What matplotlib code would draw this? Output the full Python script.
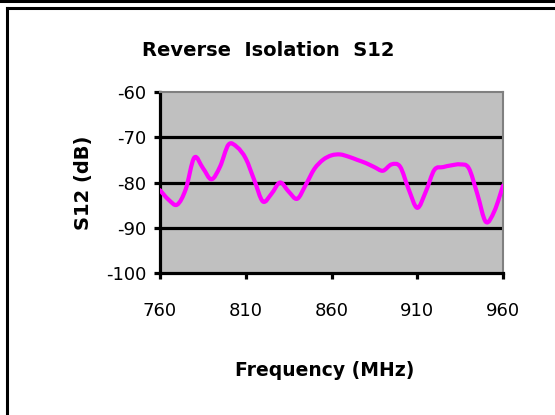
import numpy as np
import matplotlib
matplotlib.use("Agg")
import matplotlib.pyplot as plt
from matplotlib.path import Path
from matplotlib.patches import PathPatch
from matplotlib.lines import Line2D

freq_mhz = [760, 765, 770, 775, 780, 785, 790, 795, 800, 805,
            810, 815, 820, 825, 830, 835, 840, 845, 850, 855,
            860, 865, 870, 875, 880, 885, 890, 895, 900, 905,
            910, 915, 920, 925, 930, 935, 940, 945, 950, 955, 960]
s12_db = [-81.7, -83.8, -84.9, -81.5, -74.5, -76.8, -79.3, -76.5, -71.6, -72.2,
          -74.7, -79.5, -84.2, -82.5, -80.0, -82.0, -83.6, -80.5, -77.0, -75.0,
          -74.0, -73.8, -74.3, -75.0, -75.7, -76.6, -77.4, -76.0, -76.5, -81.5,
          -85.6, -82.0, -77.2, -76.6, -76.2, -76.0, -76.8, -82.5, -88.7, -86.3, -80.7]
x_ticks = [760, 810, 860, 910, 960]
y_ticks = [-100, -90, -80, -70, -60]
title = "Reverse  Isolation  S12"
x_label = "Frequency (MHz)"
y_label = "S12 (dB)"

W, H = 555, 415
fig = plt.figure(figsize=(W / 100, H / 100), dpi=100)
fig.patch.set_facecolor("white")

def fx(px):
    return px / W

def fy(py):
    return 1 - py / H

# outer frame lines
fig.add_artist(Line2D([0, 1], [fy(1.5), fy(1.5)], color="black", lw=2.2, transform=fig.transFigure))
fig.add_artist(Line2D([fx(6.5), 1], [fy(8.5), fy(8.5)], color="black", lw=2.2, transform=fig.transFigure))
fig.add_artist(Line2D([fx(6.5), fx(6.5)], [fy(8.5), 0], color="black", lw=2.2, transform=fig.transFigure))

L, R, T, B = 160, 503, 92, 273
ax = fig.add_axes([fx(L), fy(B), (R - L) / W, (B - T) / H])
ax.set_facecolor("#C0C0C0")
ax.set_xlim(760, 960)
ax.set_ylim(-100, -60)

for yv in [-90, -80, -70]:
    ax.axhline(yv, color="black", lw=2.3, zorder=1)

# smooth line (Catmull-Rom rendered as cubic Bezier path)
x = np.asarray(freq_mhz, dtype=float)
y = np.asarray(s12_db, dtype=float)
pts = np.column_stack([x, y])
verts = [pts[0]]
codes = [Path.MOVETO]
n = len(pts)
for i in range(n - 1):
    p0 = pts[i - 1] if i > 0 else pts[i]
    p1 = pts[i]
    p2 = pts[i + 1]
    p3 = pts[i + 2] if i + 2 < n else pts[i + 1]
    c1 = p1 + (p2 - p0) / 6.0
    c2 = p2 - (p3 - p1) / 6.0
    verts += [c1, c2, p2]
    codes += [Path.CURVE4] * 3
patch = PathPatch(Path(verts, codes), facecolor="none", edgecolor="#FF00FF",
                  lw=3.0, capstyle="round", joinstyle="round", zorder=3)
ax.add_patch(patch)

for side in ["left", "bottom"]:
    ax.spines[side].set_color("black")
    ax.spines[side].set_linewidth(2.3)
for side in ["top", "right"]:
    ax.spines[side].set_color("#808080")
    ax.spines[side].set_linewidth(1.5)

ax.set_xticks(x_ticks)
ax.set_yticks(y_ticks)
ax.set_xticklabels([str(v) for v in x_ticks])
ax.set_yticklabels([str(v) for v in y_ticks])
ax.tick_params(axis="y", direction="out", length=4, width=2.3, pad=6,
               labelsize=13, colors="black")
ax.tick_params(axis="x", direction="out", length=4, width=2.3, pad=17,
               labelsize=13, colors="black")
for lab in ax.get_xticklabels() + ax.get_yticklabels():
    lab.set_fontfamily("DejaVu Sans")

fig.text(fx(268), fy(56), title, ha="center", va="baseline",
         fontsize=14, fontweight="bold", family="DejaVu Sans")
fig.text(fx(325), fy(376), x_label, ha="center", va="baseline",
         fontsize=13.5, fontweight="bold", family="DejaVu Sans")
fig.text(fx(84), fy(183), y_label, ha="center", va="center", rotation=90,
         fontsize=14, fontweight="bold", family="DejaVu Sans")

fig.savefig("out.png", dpi=100)
